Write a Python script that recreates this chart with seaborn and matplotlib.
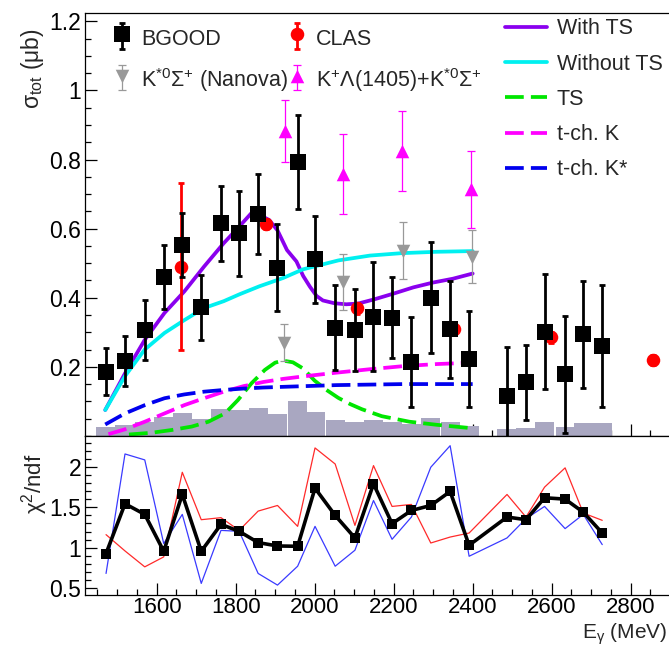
import numpy as np
import matplotlib
matplotlib.use("Agg")
import matplotlib.pyplot as plt
from matplotlib.ticker import MultipleLocator, FixedLocator, FuncFormatter
from matplotlib.container import ErrorbarContainer
from matplotlib.legend_handler import HandlerErrorbar
import seaborn as sns

# ---------------- BGOOD cross section (with systematic band) ----------------
e_bgood = np.array([1472, 1520, 1570, 1618, 1665, 1713, 1763, 1809, 1857, 1906,
                    1957, 2001, 2052, 2102, 2149, 2196, 2245, 2294, 2343, 2391,
                    2487, 2535, 2582, 2634, 2680, 2728])
sig_bgood = np.array([0.186, 0.217, 0.306, 0.460, 0.553, 0.372, 0.615, 0.586, 0.642, 0.487,
                      0.794, 0.512, 0.313, 0.307, 0.345, 0.342, 0.214, 0.400, 0.308, 0.222,
                      0.116, 0.155, 0.302, 0.178, 0.294, 0.261])
err_bgood = np.array([0.069, 0.073, 0.087, 0.093, 0.092, 0.094, 0.108, 0.124, 0.115, 0.125,
                      0.136, 0.126, 0.123, 0.118, 0.158, 0.117, 0.129, 0.160, 0.141, 0.139,
                      0.142, 0.109, 0.167, 0.169, 0.154, 0.176])
sys_bgood = np.array([0.027, 0.031, 0.040, 0.056, 0.067, 0.050, 0.077, 0.075, 0.080, 0.062,
                      0.101, 0.070, 0.045, 0.041, 0.046, 0.040, 0.035, 0.052, 0.040, 0.030,
                      0.019, 0.024, 0.039, 0.025, 0.038, 0.036])

# ---------------- other measurements ----------------
e_clas = np.array([1661, 1878, 2108, 2353, 2598, 2857])
sig_clas = np.array([0.490, 0.613, 0.369, 0.310, 0.285, 0.219])
err_clas = np.array([0.242, 0.015, 0.015, 0.015, 0.015, 0.015])

e_nanova = np.array([1922, 2073, 2224, 2398])
sig_nanova = np.array([0.270, 0.446, 0.536, 0.519])
err_nanova = np.array([0.053, 0.081, 0.083, 0.076])

e_kl1405 = np.array([1925, 2073, 2221, 2397])
sig_kl1405 = np.array([0.882, 0.757, 0.825, 0.714])
err_kl1405 = np.array([0.090, 0.116, 0.116, 0.112])

# ---------------- model curves ----------------
e_with_ts = np.array([1470, 1520, 1570, 1620, 1670, 1720, 1770, 1810, 1840, 1860, 1885,
                      1906, 1930, 1954, 1971, 1988, 2005, 2021, 2050, 2080, 2110, 2150,
                      2200, 2250, 2300, 2350, 2400])
s_with_ts = np.array([0.075, 0.181, 0.278, 0.356, 0.418, 0.490, 0.558, 0.607, 0.645, 0.640, 0.625,
                      0.595, 0.538, 0.505, 0.463, 0.432, 0.405, 0.392, 0.384, 0.381, 0.383, 0.395,
                      0.412, 0.430, 0.444, 0.455, 0.470])

e_without_ts = np.array([1470, 1520, 1570, 1620, 1670, 1720, 1770, 1810, 1860, 1920,
                         1970, 2060, 2140, 2220, 2310, 2400])
s_without_ts = np.array([0.075, 0.173, 0.250, 0.298, 0.335, 0.370, 0.390, 0.410, 0.433, 0.457,
                         0.482, 0.508, 0.522, 0.529, 0.533, 0.535])

e_ts = np.array([1530, 1587, 1638, 1689, 1731, 1773, 1806, 1840, 1874, 1900, 1920, 1945,
                 1971, 2000, 2030, 2060, 2090, 2120, 2170, 2240, 2310, 2400])
s_ts = np.array([0.004, 0.009, 0.017, 0.027, 0.041, 0.065, 0.104, 0.152, 0.191, 0.212, 0.218, 0.213,
                 0.195, 0.160, 0.133, 0.110, 0.092, 0.077, 0.057, 0.041, 0.032, 0.022])

e_tk = np.array([1478, 1520, 1570, 1620, 1670, 1720, 1770, 1820, 1870, 1920, 1970,
                 2055, 2140, 2225, 2310, 2400])
s_tk = np.array([0.005, 0.019, 0.041, 0.065, 0.089, 0.109, 0.128, 0.144, 0.156, 0.165, 0.172,
                 0.183, 0.193, 0.202, 0.208, 0.212])

e_tkstar = np.array([1470, 1520, 1570, 1620, 1670, 1720, 1770, 1820, 1870, 1920, 2055,
                     2225, 2400])
s_tkstar = np.array([0.033, 0.065, 0.089, 0.109, 0.120, 0.128, 0.133, 0.137, 0.140, 0.142, 0.147,
                     0.150, 0.150])

# ---------------- chi2/ndf per energy bin ----------------
chi2_fit = np.array([0.926, 1.545, 1.413, 0.954, 1.661, 0.954, 1.289, 1.202, 1.062, 1.020,
                     1.016, 1.739, 1.400, 1.120, 1.793, 1.298, 1.462, 1.524, 1.698, 1.029,
                     1.380, 1.347, 1.620, 1.603, 1.440, 1.181])
chi2_red = np.array([1.161, 0.958, 0.760, 0.884, 1.937, 1.347, 1.372, 1.214, 1.454, 1.524,
                     1.264, 2.240, 2.040, 1.276, 2.020, 1.512, 1.537, 1.057, 1.131, 1.181,
                     1.661, 1.380, 1.752, 1.992, 1.430, 1.339])
chi2_blue = np.array([0.678, 2.165, 2.091, 1.050, 1.413, 0.554, 1.214, 1.202, 0.678, 0.533,
                      0.768, 1.264, 0.768, 0.967, 1.586, 1.103, 1.380, 2.000, 2.268, 0.892,
                      1.120, 1.360, 1.512, 1.236, 1.413, 1.037])

# ---------------- style ----------------
sns.set_theme(style="ticks")
plt.rcParams.update({
    "font.family": ["Liberation Sans", "DejaVu Sans"],
    "mathtext.fontset": "custom",
    "mathtext.rm": "Liberation Sans",
    "mathtext.it": "Liberation Sans",
    "mathtext.bf": "Liberation Sans:bold",
    "axes.edgecolor": "black",
    "axes.linewidth": 0.9,
    "xtick.color": "black",
    "ytick.color": "black",
})

TICK_FS = 16
LEG_FS = 15.5

fig = plt.figure(figsize=(6.69, 6.47), dpi=100)
ax1 = fig.add_axes([0.1278, 0.3263, 0.8722, 0.654])
ax2 = fig.add_axes([0.1278, 0.0804, 0.8722, 0.2459], sharex=ax1)

# systematic uncertainty histogram
ax1.bar(e_bgood, sys_bgood, width=48.5, color="#a9a7c1", linewidth=0, zorder=1)

LW = 2.7
DASH = (0, (5, 1.9))


def curve(x, y, color, dashed=False):
    sns.lineplot(x=x, y=y, ax=ax1, color=color, lw=LW, errorbar=None,
                 linestyle=DASH if dashed else "-", zorder=2, legend=False)
    return ax1.lines[-1]


l_with = curve(e_with_ts, s_with_ts, "#8a00ee")
l_without = curve(e_without_ts, s_without_ts, "#00f0f0")
l_ts = curve(e_ts, s_ts, "#00e600", dashed=True)
l_tk = curve(e_tk, s_tk, "#ff00ff", dashed=True)
l_tks = curve(e_tkstar, s_tkstar, "#0000ee", dashed=True)


def points(x, y, err, marker, color, size, elw, capsize, z):
    eb = ax1.errorbar(x, y, yerr=err, fmt="none", ecolor=color, elinewidth=elw,
                      capsize=capsize, capthick=elw, zorder=z)
    sns.scatterplot(x=x, y=y, ax=ax1, marker=marker, color=color, s=size,
                    linewidth=0, zorder=z + 0.5, legend=False)
    return eb, ax1.collections[-1]


h_kl = points(e_kl1405, sig_kl1405, err_kl1405, "^", "#ff00ff", 95, 0.9, 3.0, 3)
h_nan = points(e_nanova, sig_nanova, err_nanova, "v", "#999999", 95, 0.9, 3.0, 3)
h_clas = points(e_clas, sig_clas, err_clas, "o", "#ff0000", 95, 2.0, 2.5, 4)
h_bgood = points(e_bgood, sig_bgood, err_bgood, "s", "black", 118, 2.0, 2.5, 5)

# ---------------- axes 1 formatting ----------------
ax1.set_xlim(1420, 2897)
ax1.set_ylim(0, 1.225)
ax1.yaxis.set_major_locator(FixedLocator([0.2, 0.4, 0.6, 0.8, 1.0, 1.2]))
ax1.yaxis.set_minor_locator(MultipleLocator(0.05))
ax1.yaxis.set_major_formatter(FuncFormatter(lambda v, _: f"{v:g}"))
ax1.xaxis.set_major_locator(MultipleLocator(200))
ax1.xaxis.set_minor_locator(MultipleLocator(50))
ax1.tick_params(axis="x", which="both", labelbottom=False)
for ax in (ax1, ax2):
    ax.tick_params(which="both", direction="in", top=False, right=False, width=0.9)
    ax.tick_params(which="major", length=8.5, labelsize=TICK_FS)
    ax.tick_params(which="minor", length=4.3)
    ax.tick_params(axis="y", pad=3)
    ax.tick_params(axis="x", pad=1.5)
    ax.spines["right"].set_visible(False)
    ax.set_xlabel("")
    ax.set_ylabel("")
ax1.tick_params(axis="y", labelsize=16.5)
ax2.tick_params(axis="y", labelsize=16.5)

# ---------------- chi2 panel ----------------
sns.lineplot(x=e_bgood, y=chi2_red, ax=ax2, color="#ff2a2a", lw=0.9, errorbar=None)
sns.lineplot(x=e_bgood, y=chi2_blue, ax=ax2, color="#3a3aff", lw=0.9, errorbar=None)
sns.lineplot(x=e_bgood, y=chi2_fit, ax=ax2, color="black", lw=2.6, errorbar=None,
             marker="s", markersize=7.5, markeredgewidth=0)
ax2.set_ylim(0.41, 2.39)
ax2.yaxis.set_major_locator(FixedLocator([0.5, 1.0, 1.5, 2.0]))
ax2.yaxis.set_minor_locator(MultipleLocator(0.1))
ax2.yaxis.set_major_formatter(FuncFormatter(lambda v, _: f"{v:g}"))
ax2.xaxis.set_major_locator(MultipleLocator(200))
ax2.xaxis.set_minor_locator(MultipleLocator(50))
ax2.set_xlabel("")
ax2.set_ylabel("")

# ---------------- labels ----------------
fig.text(33 / 669, 1 - 28 / 647, r"$\mathregular{\sigma_{tot}}$ ($\mathregular{\mu}$b)",
         rotation=90, ha="center", va="top", fontsize=16.5)
fig.text(35 / 669, 1 - 454 / 647, r"$\mathregular{\chi^{2}}$/ndf",
         rotation=90, ha="center", va="top", fontsize=16)
fig.text(0.997, 1 - 638.5 / 647, r"E$_{\mathregular{\gamma}}$ (MeV)",
         ha="right", va="baseline", fontsize=15)

# ---------------- legends ----------------
hmap = {ErrorbarContainer: HandlerErrorbar(xerr_size=0.35, yerr_size=0.6)}
common = dict(frameon=False, fontsize=LEG_FS, loc="upper left", borderpad=0,
              borderaxespad=0, handlelength=1.0, handletextpad=0.4, handleheight=1.2,
              labelspacing=0.72, scatteryoffsets=[0.5], handler_map=hmap)
leg_a = ax1.legend([tuple(h_bgood), tuple(h_nan)],
                   ["BGOOD", r"K$^{\mathregular{*0}}$Σ$^{\mathregular{+}}$ (Nanova)"],
                   bbox_to_anchor=(111.0 / 669, 1 - 27.0 / 647),
                   bbox_transform=fig.transFigure, **common)
ax1.add_artist(leg_a)
leg_b = ax1.legend([tuple(h_clas), tuple(h_kl)],
                   ["CLAS", r"K$^{\mathregular{+}}$Λ(1405)+K$^{\mathregular{*0}}$Σ$^{\mathregular{+}}$"],
                   bbox_to_anchor=(286.0 / 669, 1 - 27.0 / 647),
                   bbox_transform=fig.transFigure, **common)
ax1.add_artist(leg_b)
ax1.legend([l_with, l_without, l_ts, l_tk, l_tks],
           ["With TS", "Without TS", "TS", "t-ch. K", "t-ch. K*"],
           frameon=False, fontsize=LEG_FS, loc="upper left", borderpad=0, borderaxespad=0,
           handlelength=1.95, handletextpad=0.45, labelspacing=0.66,
           bbox_to_anchor=(505 / 669, 1 - 18.5 / 647), bbox_transform=fig.transFigure)

fig.savefig("out.png", dpi=100)
